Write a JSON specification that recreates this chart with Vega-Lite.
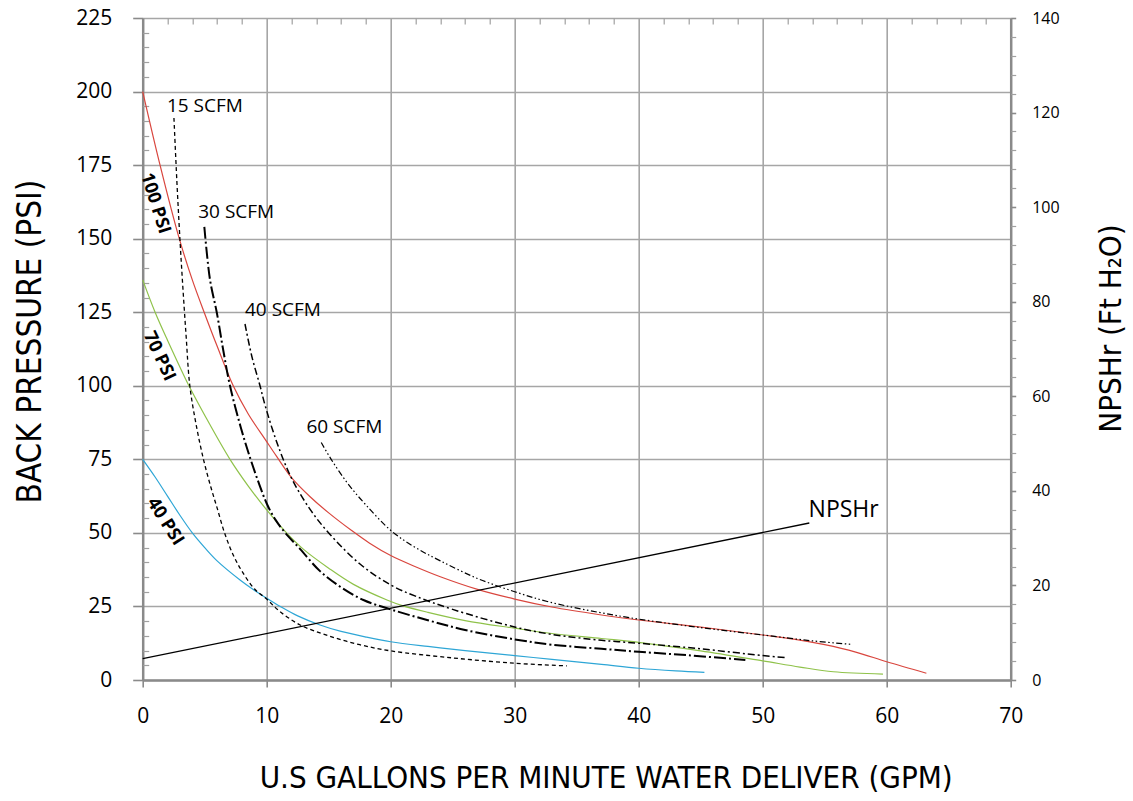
{
  "$schema": "https://vega.github.io/schema/vega-lite/v6.json",
  "width": 868,
  "height": 662,
  "autosize": {"type": "none"},
  "padding": {"left": 142.7, "top": 18, "right": 122.3, "bottom": 121},
  "background": "white",
  "config": {"view": {"stroke": null}, "font": "Open Sans"},
  "datasets": {
    "curves": [
      {"s": "100 PSI", "x": 0, "y": 200}, {"s": "100 PSI", "x": 1.4, "y": 175}, {"s": "100 PSI", "x": 2.95, "y": 150}, {"s": "100 PSI", "x": 4, "y": 136}, {"s": "100 PSI", "x": 5, "y": 124.5}, {"s": "100 PSI", "x": 6, "y": 113.5}, {"s": "100 PSI", "x": 7.3, "y": 100}, {"s": "100 PSI", "x": 8.5, "y": 90.5}, {"s": "100 PSI", "x": 10, "y": 81}, {"s": "100 PSI", "x": 10.8, "y": 76}, {"s": "100 PSI", "x": 12, "y": 68.8}, {"s": "100 PSI", "x": 13.5, "y": 62.3}, {"s": "100 PSI", "x": 15, "y": 56.8}, {"s": "100 PSI", "x": 16.85, "y": 50.8}, {"s": "100 PSI", "x": 18.3, "y": 46.5}, {"s": "100 PSI", "x": 20, "y": 42.3}, {"s": "100 PSI", "x": 22, "y": 38.5}, {"s": "100 PSI", "x": 24, "y": 35.1}, {"s": "100 PSI", "x": 27, "y": 30.8}, {"s": "100 PSI", "x": 30, "y": 27.5}, {"s": "100 PSI", "x": 33, "y": 24.8}, {"s": "100 PSI", "x": 37, "y": 22.1}, {"s": "100 PSI", "x": 40, "y": 20.4}, {"s": "100 PSI", "x": 45, "y": 18}, {"s": "100 PSI", "x": 50, "y": 15.3}, {"s": "100 PSI", "x": 52.5, "y": 13.9}, {"s": "100 PSI", "x": 55, "y": 12}, {"s": "100 PSI", "x": 57.5, "y": 9.5}, {"s": "100 PSI", "x": 60, "y": 6.2}, {"s": "100 PSI", "x": 63.2, "y": 2.3},
      {"s": "70 PSI", "x": 0, "y": 136}, {"s": "70 PSI", "x": 1, "y": 125}, {"s": "70 PSI", "x": 2, "y": 115.5}, {"s": "70 PSI", "x": 3.73, "y": 100}, {"s": "70 PSI", "x": 5, "y": 90}, {"s": "70 PSI", "x": 7.04, "y": 75}, {"s": "70 PSI", "x": 8.5, "y": 66}, {"s": "70 PSI", "x": 10, "y": 57.8}, {"s": "70 PSI", "x": 11.6, "y": 50}, {"s": "70 PSI", "x": 13, "y": 44.3}, {"s": "70 PSI", "x": 15, "y": 38}, {"s": "70 PSI", "x": 17, "y": 32.5}, {"s": "70 PSI", "x": 19.7, "y": 27.2}, {"s": "70 PSI", "x": 21, "y": 25.2}, {"s": "70 PSI", "x": 23, "y": 23}, {"s": "70 PSI", "x": 26, "y": 20.2}, {"s": "70 PSI", "x": 30, "y": 17.6}, {"s": "70 PSI", "x": 33, "y": 15.8}, {"s": "70 PSI", "x": 37, "y": 14.1}, {"s": "70 PSI", "x": 40, "y": 12.8}, {"s": "70 PSI", "x": 45, "y": 9.9}, {"s": "70 PSI", "x": 50, "y": 6.5}, {"s": "70 PSI", "x": 53, "y": 4.4}, {"s": "70 PSI", "x": 55.7, "y": 2.8}, {"s": "70 PSI", "x": 59.7, "y": 2.0},
      {"s": "40 PSI", "x": 0, "y": 75}, {"s": "40 PSI", "x": 1, "y": 69}, {"s": "40 PSI", "x": 2, "y": 62.5}, {"s": "40 PSI", "x": 3, "y": 56}, {"s": "40 PSI", "x": 4, "y": 50}, {"s": "40 PSI", "x": 5, "y": 45}, {"s": "40 PSI", "x": 6, "y": 40.5}, {"s": "40 PSI", "x": 7.85, "y": 34}, {"s": "40 PSI", "x": 9, "y": 30.5}, {"s": "40 PSI", "x": 10, "y": 27.8}, {"s": "40 PSI", "x": 11.1, "y": 25}, {"s": "40 PSI", "x": 12.5, "y": 21.8}, {"s": "40 PSI", "x": 14.3, "y": 18.7}, {"s": "40 PSI", "x": 16, "y": 16.5}, {"s": "40 PSI", "x": 18, "y": 14.6}, {"s": "40 PSI", "x": 20, "y": 13}, {"s": "40 PSI", "x": 23, "y": 11.4}, {"s": "40 PSI", "x": 26, "y": 10}, {"s": "40 PSI", "x": 30, "y": 8.3}, {"s": "40 PSI", "x": 33, "y": 7}, {"s": "40 PSI", "x": 37, "y": 5.3}, {"s": "40 PSI", "x": 40, "y": 4.0}, {"s": "40 PSI", "x": 43, "y": 3.1}, {"s": "40 PSI", "x": 45.3, "y": 2.6},
      {"s": "15 SCFM", "x": 2.52, "y": 191}, {"s": "15 SCFM", "x": 2.75, "y": 170}, {"s": "15 SCFM", "x": 3.0, "y": 150}, {"s": "15 SCFM", "x": 3.2, "y": 136}, {"s": "15 SCFM", "x": 3.5, "y": 117}, {"s": "15 SCFM", "x": 3.8, "y": 100}, {"s": "15 SCFM", "x": 4.3, "y": 87}, {"s": "15 SCFM", "x": 4.9, "y": 75}, {"s": "15 SCFM", "x": 5.5, "y": 65.5}, {"s": "15 SCFM", "x": 6, "y": 58.5}, {"s": "15 SCFM", "x": 6.6, "y": 50}, {"s": "15 SCFM", "x": 7.3, "y": 42.5}, {"s": "15 SCFM", "x": 8, "y": 37}, {"s": "15 SCFM", "x": 9, "y": 31}, {"s": "15 SCFM", "x": 10, "y": 27.5}, {"s": "15 SCFM", "x": 11, "y": 23.5}, {"s": "15 SCFM", "x": 12.7, "y": 18.7}, {"s": "15 SCFM", "x": 15, "y": 15}, {"s": "15 SCFM", "x": 17.5, "y": 12}, {"s": "15 SCFM", "x": 20, "y": 9.9}, {"s": "15 SCFM", "x": 25, "y": 7.5}, {"s": "15 SCFM", "x": 30, "y": 5.7}, {"s": "15 SCFM", "x": 34.2, "y": 4.8},
      {"s": "30 SCFM", "x": 4.97, "y": 154}, {"s": "30 SCFM", "x": 5.43, "y": 136}, {"s": "30 SCFM", "x": 5.97, "y": 125}, {"s": "30 SCFM", "x": 6.5, "y": 112}, {"s": "30 SCFM", "x": 7.04, "y": 100}, {"s": "30 SCFM", "x": 7.9, "y": 86}, {"s": "30 SCFM", "x": 8.7, "y": 75}, {"s": "30 SCFM", "x": 9.4, "y": 66.5}, {"s": "30 SCFM", "x": 10, "y": 60}, {"s": "30 SCFM", "x": 10.7, "y": 54.5}, {"s": "30 SCFM", "x": 11.5, "y": 50}, {"s": "30 SCFM", "x": 12.7, "y": 44.5}, {"s": "30 SCFM", "x": 14.3, "y": 37}, {"s": "30 SCFM", "x": 16, "y": 31.5}, {"s": "30 SCFM", "x": 17.8, "y": 27.2}, {"s": "30 SCFM", "x": 20, "y": 24}, {"s": "30 SCFM", "x": 23, "y": 20.3}, {"s": "30 SCFM", "x": 26, "y": 17}, {"s": "30 SCFM", "x": 30, "y": 13.8}, {"s": "30 SCFM", "x": 33, "y": 12}, {"s": "30 SCFM", "x": 37, "y": 10.6}, {"s": "30 SCFM", "x": 40, "y": 9.6}, {"s": "30 SCFM", "x": 44, "y": 8.4}, {"s": "30 SCFM", "x": 48.6, "y": 6.8},
      {"s": "40 SCFM", "x": 8.25, "y": 121}, {"s": "40 SCFM", "x": 8.8, "y": 110}, {"s": "40 SCFM", "x": 9.46, "y": 100}, {"s": "40 SCFM", "x": 9.86, "y": 93.5}, {"s": "40 SCFM", "x": 10.8, "y": 81}, {"s": "40 SCFM", "x": 12, "y": 68.6}, {"s": "40 SCFM", "x": 13.5, "y": 58}, {"s": "40 SCFM", "x": 15, "y": 50}, {"s": "40 SCFM", "x": 17.5, "y": 39.5}, {"s": "40 SCFM", "x": 20, "y": 32.3}, {"s": "40 SCFM", "x": 22, "y": 28.5}, {"s": "40 SCFM", "x": 25, "y": 24}, {"s": "40 SCFM", "x": 30, "y": 18}, {"s": "40 SCFM", "x": 33, "y": 15.5}, {"s": "40 SCFM", "x": 37, "y": 13.5}, {"s": "40 SCFM", "x": 40, "y": 12.5}, {"s": "40 SCFM", "x": 45, "y": 10.6}, {"s": "40 SCFM", "x": 50, "y": 8.3}, {"s": "40 SCFM", "x": 51.9, "y": 7.6},
      {"s": "60 SCFM", "x": 14.4, "y": 80.7}, {"s": "60 SCFM", "x": 15.2, "y": 75}, {"s": "60 SCFM", "x": 16.5, "y": 67}, {"s": "60 SCFM", "x": 18, "y": 59.5}, {"s": "60 SCFM", "x": 20.1, "y": 50.5}, {"s": "60 SCFM", "x": 22, "y": 45}, {"s": "60 SCFM", "x": 24, "y": 40.5}, {"s": "60 SCFM", "x": 27, "y": 34.5}, {"s": "60 SCFM", "x": 30, "y": 30}, {"s": "60 SCFM", "x": 32.8, "y": 26.5}, {"s": "60 SCFM", "x": 36.9, "y": 22.9}, {"s": "60 SCFM", "x": 40, "y": 20.7}, {"s": "60 SCFM", "x": 45, "y": 17.8}, {"s": "60 SCFM", "x": 50, "y": 15.3}, {"s": "60 SCFM", "x": 54, "y": 13.3}, {"s": "60 SCFM", "x": 57.2, "y": 12.1}
    ],
    "labels": [
      {"t": "15 SCFM", "x": 1.95, "y": 195},
      {"t": "30 SCFM", "x": 4.48, "y": 159},
      {"t": "40 SCFM", "x": 8.25, "y": 125.8},
      {"t": "60 SCFM", "x": 13.2, "y": 86.1},
      {"t": "NPSHr", "x": 53.7, "y": 57.8},
      {"t": "100 PSI", "x": 1.0, "y": 162},
      {"t": "70 PSI", "x": 1.32, "y": 110},
      {"t": "40 PSI", "x": 1.8, "y": 53.8}
    ],
    "npshr": [{"x": 0, "ft": 4.5}, {"x": 53.76, "ft": 33.2}],
    "dummy": [{"x": 0, "y": 0}]
  },
  "layer": [
    {
      "encoding": {
        "x": {
          "field": "x", "type": "quantitative",
          "scale": {"domain": [0, 70], "nice": false, "zero": false},
          "axis": {
            "values": [0, 10, 20, 30, 40, 50, 60, 70], "format": "d",
            "grid": true, "gridColor": "#a6a6a6", "gridWidth": 1.6,
            "domainColor": "#8a8a8a", "domainWidth": 2.5,
            "tickColor": "#8a8a8a", "tickWidth": 1.6, "tickSize": 7,
            "labelFont": "Open Sans", "labelFontSize": 21, "labelColor": "#000", "labelPadding": 18,
            "labelFlush": false, "labelOverlap": false,
            "title": "U.S GALLONS PER MINUTE WATER DELIVER (GPM)",
            "titleFont": "DejaVu Sans Condensed, Liberation Sans, sans-serif", "titleFontSize": 31, "titleFontWeight": "normal", "titleColor": "#000",
            "titleX": 463, "titleY": 98, "titleAlign": "center", "titleBaseline": "middle"
          }
        },
        "y": {
          "field": "y", "type": "quantitative",
          "scale": {"domain": [0, 225], "nice": false, "zero": false},
          "axis": {
            "values": [0, 25, 50, 75, 100, 125, 150, 175, 200, 225], "format": "d",
            "grid": true, "gridColor": "#a6a6a6", "gridWidth": 1.6,
            "domainColor": "#8a8a8a", "domainWidth": 2.5,
            "tickColor": "#8a8a8a", "tickWidth": 1.6, "tickSize": 10,
            "labelFont": "Open Sans", "labelFontSize": 21, "labelColor": "#000", "labelPadding": 21,
            "labelFlush": false, "labelOverlap": false,
            "title": "BACK PRESSURE (PSI)",
            "titleFont": "DejaVu Sans Condensed, Liberation Sans, sans-serif", "titleFontSize": 33, "titleFontWeight": "normal", "titleColor": "#000",
            "titleAngle": -90, "titleX": -112.7, "titleY": 323, "titleAlign": "center", "titleBaseline": "middle"
          }
        }
      },
      "layer": [
        {"data": {"name": "curves"}, "transform": [{"filter": {"field": "s", "oneOf": ["100 PSI", "70 PSI", "40 PSI"]}}],
         "mark": {"type": "line", "interpolate": "catmull-rom", "strokeWidth": 1.2},
         "encoding": {"detail": {"field": "s"}, "color": {"field": "s", "type": "nominal", "scale": {"domain": ["100 PSI", "70 PSI", "40 PSI"], "range": ["#d9463e", "#8fc24a", "#2ea6d6"]}, "legend": null}}},
        {"data": {"name": "curves"}, "transform": [{"filter": {"field": "s", "equal": "15 SCFM"}}],
         "mark": {"type": "line", "interpolate": "catmull-rom", "color": "#000", "strokeWidth": 1.3, "strokeDash": [4, 3]}, "encoding": {}},
        {"data": {"name": "curves"}, "transform": [{"filter": {"field": "s", "equal": "30 SCFM"}}],
         "mark": {"type": "line", "interpolate": "catmull-rom", "color": "#000", "strokeWidth": 2, "strokeDash": [12, 3, 2, 3]}, "encoding": {}},
        {"data": {"name": "curves"}, "transform": [{"filter": {"field": "s", "equal": "40 SCFM"}}],
         "mark": {"type": "line", "interpolate": "catmull-rom", "color": "#000", "strokeWidth": 1.5, "strokeDash": [7, 3, 2, 3]}, "encoding": {}},
        {"data": {"name": "curves"}, "transform": [{"filter": {"field": "s", "equal": "60 SCFM"}}],
         "mark": {"type": "line", "interpolate": "catmull-rom", "color": "#000", "strokeWidth": 1.2, "strokeDash": [6, 2.5, 1.5, 2.5, 1.5, 2.5]}, "encoding": {}},
        {"data": {"name": "labels"}, "transform": [{"filter": {"field": "t", "oneOf": ["15 SCFM", "30 SCFM", "40 SCFM", "60 SCFM"]}}],
         "mark": {"type": "text", "align": "left", "baseline": "middle", "fontSize": 19, "font": "Open Sans", "color": "#000"},
         "encoding": {"text": {"field": "t"}}},
        {"data": {"name": "labels"}, "transform": [{"filter": {"field": "t", "equal": "NPSHr"}}],
         "mark": {"type": "text", "align": "left", "baseline": "middle", "fontSize": 23, "font": "Open Sans", "color": "#000"},
         "encoding": {"text": {"field": "t"}}},
        {"data": {"name": "labels"}, "transform": [{"filter": {"field": "t", "equal": "100 PSI"}}],
         "mark": {"type": "text", "align": "center", "baseline": "middle", "fontSize": 18, "fontWeight": "bold", "font": "Open Sans", "color": "#000", "angle": 72.5},
         "encoding": {"text": {"field": "t"}}},
        {"data": {"name": "labels"}, "transform": [{"filter": {"field": "t", "equal": "70 PSI"}}],
         "mark": {"type": "text", "align": "center", "baseline": "middle", "fontSize": 18, "fontWeight": "bold", "font": "Open Sans", "color": "#000", "angle": 65},
         "encoding": {"text": {"field": "t"}}},
        {"data": {"name": "labels"}, "transform": [{"filter": {"field": "t", "equal": "40 PSI"}}],
         "mark": {"type": "text", "align": "center", "baseline": "middle", "fontSize": 18, "fontWeight": "bold", "font": "Open Sans", "color": "#000", "angle": 57.5},
         "encoding": {"text": {"field": "t"}}}
      ]
    },
    {
      "data": {"name": "npshr"},
      "mark": {"type": "line", "color": "#000", "strokeWidth": 1.3},
      "encoding": {
        "x": {"field": "x", "type": "quantitative", "scale": {"domain": [0, 70], "nice": false, "zero": false}, "axis": null},
        "y": {
          "field": "ft", "type": "quantitative",
          "scale": {"domain": [0, 140], "nice": false, "zero": false},
          "axis": {
            "orient": "right", "values": [0, 20, 40, 60, 80, 100, 120, 140], "format": "d",
            "grid": false, "domainColor": "#8a8a8a", "domainWidth": 2.5,
            "tickColor": "#8a8a8a", "tickWidth": 1.6, "tickSize": 5,
            "labelFont": "Open Sans", "labelFontSize": 16, "labelColor": "#000", "labelPadding": 16,
            "labelFlush": false, "labelOverlap": false,
            "title": "NPSHr (Ft H₂O)",
            "titleFont": "DejaVu Sans Condensed, Liberation Sans, sans-serif", "titleFontSize": 31, "titleFontWeight": "normal", "titleColor": "#000",
            "titleAngle": -90, "titleX": 101, "titleY": 310, "titleAlign": "center", "titleBaseline": "middle"
          }
        }
      }
    },
    {
      "data": {"name": "dummy"},
      "mark": {"type": "point", "opacity": 0},
      "encoding": {
        "x": {"field": "x", "type": "quantitative", "scale": {"domain": [0, 70], "nice": false, "zero": false},
          "axis": {"values": [2, 4, 6, 8, 12, 14, 16, 18, 22, 24, 26, 28, 32, 34, 36, 38, 42, 44, 46, 48, 52, 54, 56, 58, 62, 64, 66, 68],
            "labels": false, "domain": false, "grid": false, "tickSize": -6, "tickColor": "#a0a0a0", "tickWidth": 1.2, "title": null}},
        "y": {"field": "y", "type": "quantitative", "scale": {"domain": [0, 225], "nice": false, "zero": false},
          "axis": {"values": [5, 10, 15, 20, 30, 35, 40, 45, 55, 60, 65, 70, 80, 85, 90, 95, 105, 110, 115, 120, 130, 135, 140, 145, 155, 160, 165, 170, 180, 185, 190, 195, 205, 210, 215, 220],
            "labels": false, "domain": false, "grid": false, "tickSize": -6, "tickColor": "#a0a0a0", "tickWidth": 1.2, "title": null}}
      }
    },
    {
      "data": {"name": "dummy"},
      "mark": {"type": "point", "opacity": 0},
      "encoding": {
        "x": {"field": "x", "type": "quantitative", "scale": {"domain": [0, 70], "nice": false, "zero": false}, "axis": null},
        "y": {"field": "y", "type": "quantitative", "scale": {"domain": [0, 140], "nice": false, "zero": false},
          "axis": {"orient": "right", "values": [4, 8, 12, 16, 24, 28, 32, 36, 44, 48, 52, 56, 64, 68, 72, 76, 84, 88, 92, 96, 104, 108, 112, 116, 124, 128, 132, 136],
            "labels": false, "domain": false, "grid": false, "tickSize": 5, "tickColor": "#a0a0a0", "tickWidth": 1.2, "title": null}}
      }
    }
  ],
  "resolve": {"scale": {"y": "independent"}, "axis": {"x": "independent", "y": "independent"}}
}
